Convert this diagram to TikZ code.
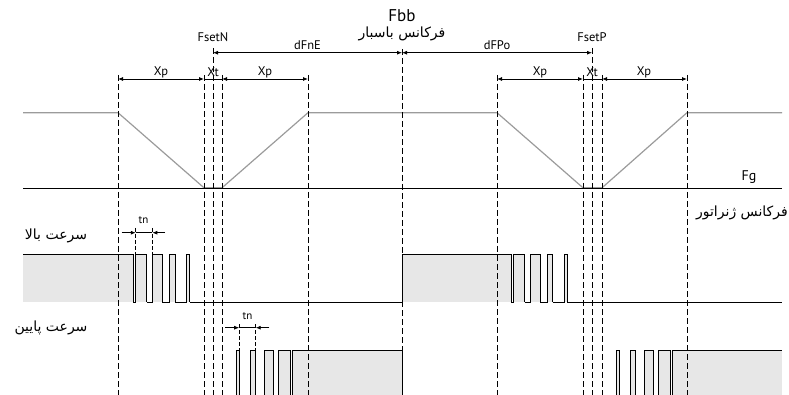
\documentclass[tikz,border=0pt]{standalone}
\usepackage{fontspec}
\setmainfont{PT Sans}
\newfontfamily\farsifont[Script=Arabic]{DejaVu Sans}
\TeXXeTstate=1
\usetikzlibrary{arrows.meta}
\definecolor{RampGray}{RGB}{155,155,155}
\definecolor{HighGray}{RGB}{231,231,231}
\tikzset{
	guide/.style={line width=0.9pt, dash pattern=on 6pt off 3pt},
	tick/.style={line width=0.8pt, dash pattern=on 4pt off 2pt},
	dim/.style={line width=0.8pt, {Latex[length=5pt,width=4pt]}-{Latex[length=5pt,width=4pt]}},
	half/.style={line width=0.8pt, -{Latex[length=5pt,width=4pt]}},
	ramp/.style={line width=1.2pt, draw=RampGray},
	freq/.style={line width=0.9pt, draw=black},
	sig/.style={line width=0.8pt, draw=black},
	hi/.style={fill=HighGray},
	lab/.style={inner sep=1pt, font=\fontsize{12.5}{14}\selectfont},
	big/.style={inner sep=1pt, font=\fontsize{17}{20}\selectfont},
	fa/.style={inner sep=1pt, font=\farsifont\fontsize{14}{17}\selectfont}
}
\newcommand{\fallseq}{2.5/13.5,19/29,36.3/41.7,53.3/56.3}
\newcommand{\riseseq}{0/2.5,14/19,27.5/36.5,42/53.5}

\begin{document}
\begin{tikzpicture}[x=1pt, y=-1pt, >=Latex]
	\useasboundingbox (0,0) rectangle (789,395);
	\coordinate (bot) at (0,395);
	\coordinate (rowD) at (0,52.7);
	\coordinate (rowX) at (0,79);
	\coordinate (rowHi) at (0,254.5);
	\coordinate (rowT) at (0,232.7);
	\coordinate (rowHi2) at (0,350);
	\coordinate (rowT2) at (0,327.7);

	\draw[ramp] (23,112.7) -- (118,112.7) -- (204,187.8) -- (222,187.8) -- (308,112.7)
		-- (497,112.7) -- (583,187.8) -- (602,187.8) -- (687,112.7) -- (782,112.7);
	\draw[freq] (23,188.7) -- (782,188.7);

	\fill[hi] (23,254.5) rectangle (133.3,302);
	\fill[hi] (402,254.5) rectangle (511,302);
	\foreach \s in {133.3,511} {
		\foreach \a/\b [remember=\b as \lastb (initially 0)] in \fallseq {
			\fill[hi] ({\s+\a},254.5) rectangle ({\s+\b},302);
			\draw[sig] ({\s+\lastb},302) -- ({\s+\a},302) -- ({\s+\a},254.5) -- ({\s+\b},254.5) -- ({\s+\b},302);
		}
	}
	\draw[sig] (23,254.5) -- (133.3,254.5) -- (133.3,302);
	\draw[sig] (189.6,302) -- (402,302) -- (402,254.5) -- (511,254.5) -- (511,302);
	\draw[sig] (567.3,302) -- (782,302);

	\foreach \r/\e in {236.7/402, 616.7/782} {
		\foreach \a/\b in \riseseq {
			\fill[hi] ({\r+\a},350) rectangle ({\r+\b},395);
			\draw[sig] ({\r+\a},395) -- ({\r+\a},350) -- ({\r+\b},350) -- ({\r+\b},395);
		}
		\fill[hi] ({\r+56},350) rectangle (\e,395);
		\draw[sig] ({\r+56},395) -- ({\r+56},350) -- (\e,350);
	}
	\draw[sig] (402,350) -- (402,395);

	\foreach \n/\x/\y in {xpL1/118/75, xtL1/204/75, fsetN/213/48, xtR1/222/75, xpR1/308/75,
		bus/402/49, xpL2/497/75, xtL2/583/75, fsetP/592/48, xtR2/602/75, xpR2/687/75} {
		\coordinate (\n) at (\x,\y);
		\draw[guide] (\n) -- (\n |- bot);
	}

	\draw[dim] (fsetN |- rowD) -- (bus |- rowD);
	\draw[dim] (bus |- rowD) -- (fsetP |- rowD);
	\draw[dim] (xpL1 |- rowX) -- (xtL1 |- rowX);
	\draw[sig] (xtL1 |- rowX) -- (xtR1 |- rowX);
	\draw[dim] (xtR1 |- rowX) -- (xpR1 |- rowX);
	\draw[dim] (xpL2 |- rowX) -- (xtL2 |- rowX);
	\draw[sig] (xtL2 |- rowX) -- (xtR2 |- rowX);
	\draw[dim] (xtR2 |- rowX) -- (xpR2 |- rowX);

	\coordinate (tnA) at (135.8,228);
	\coordinate (tnB) at (152.3,228);
	\coordinate (tnAl) at (121.7,232.7);
	\coordinate (tnBr) at (165,232.7);
	\draw[tick] (tnA) -- (tnA |- rowHi);
	\draw[tick] (tnB) -- (tnB |- rowHi);
	\draw[half] (tnAl) -- (tnA |- rowT);
	\draw[half] (tnBr) -- (tnB |- rowT);
	\draw[sig] (tnA |- rowT) -- (tnB |- rowT);

	\coordinate (tnC) at (239.2,324);
	\coordinate (tnD) at (255.7,324);
	\coordinate (tnCl) at (225,327.7);
	\coordinate (tnDr) at (269.3,327.7);
	\draw[tick] (tnC) -- (tnC |- rowHi2);
	\draw[tick] (tnD) -- (tnD |- rowHi2);
	\draw[half] (tnCl) -- (tnC |- rowT2);
	\draw[half] (tnDr) -- (tnD |- rowT2);
	\draw[sig] (tnC |- rowT2) -- (tnD |- rowT2);

	\node[big] (fbbLab) at (402,16) {Fbb};
	\node[fa] (busLab) at (402,34) {\beginR فرکانس باسبار\endR};
	\node[lab] (fsetNLab) at (213,37) {FsetN};
	\node[lab] (fsetPLab) at (592,37) {FsetP};
	\node[lab] (dfneLab) at (307.5,45) {dFnE};
	\node[lab] (dfpoLab) at (497,45) {dFPo};
	\node[lab] (xpLab1) at (161,72) {Xp};
	\node[lab] (xtLab1) at (213,72) {Xt};
	\node[lab] (xpLab2) at (265,72) {Xp};
	\node[lab] (xpLab3) at (540,72) {Xp};
	\node[lab] (xtLab2) at (592,72) {Xt};
	\node[lab] (xpLab4) at (644,72) {Xp};
	\node[lab, font=\fontsize{11}{13}\selectfont] (tnLab1) at (143.5,220) {tn};
	\node[lab, font=\fontsize{11}{13}\selectfont] (tnLab2) at (247.5,316) {tn};
	\node[big, font=\fontsize{14}{16}\selectfont] (fgLab) at (749,177) {Fg};
	\node[fa, anchor=east] (genLab) at (789,213) {\beginR فرکانس ژنراتور\endR};
	\node[fa] (fastLab) at (56,236) {\beginR سرعت بالا\endR};
	\node[fa] (slowLab) at (51,328) {\beginR سرعت پایین\endR};
\end{tikzpicture}
\end{document}
